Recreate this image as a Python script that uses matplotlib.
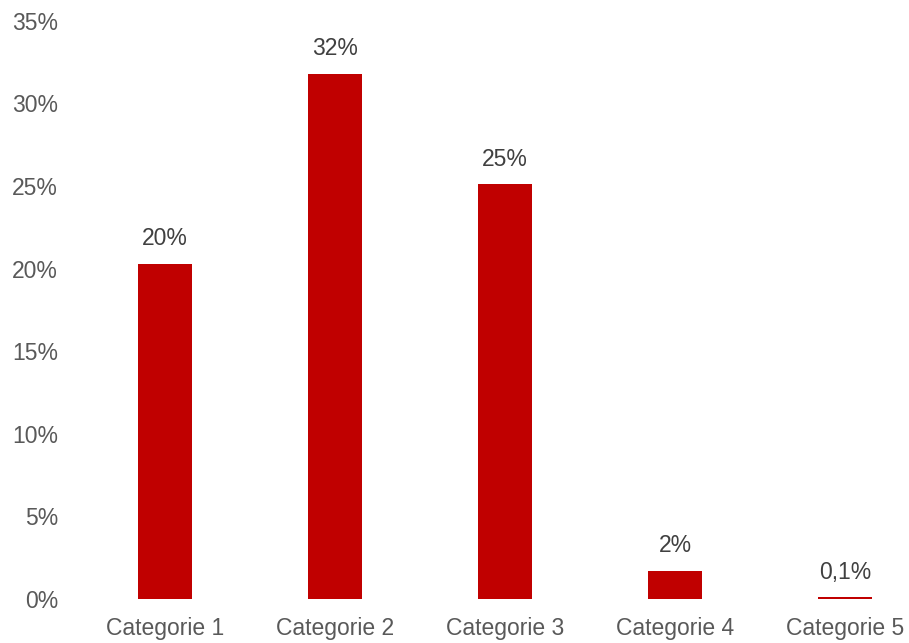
import matplotlib.pyplot as plt
from matplotlib.ticker import FuncFormatter

categories = ["Categorie 1", "Categorie 2", "Categorie 3", "Categorie 4", "Categorie 5"]
values = [20.3, 31.8, 25.1, 1.7, 0.1]
labels = ["20%", "32%", "25%", "2%", "0,1%"]

plt.rcParams["font.family"] = ["Liberation Sans", "DejaVu Sans"]

fig = plt.figure(figsize=(9.09, 6.43), dpi=100)
ax = fig.add_axes([80 / 909, 44 / 643, 850 / 909, 578.3 / 643])

x = range(len(categories))
bars = ax.bar(x, values, width=0.314, color="#C00000")

for b, lab in zip(bars, labels):
    ax.annotate(lab, (b.get_x() + b.get_width() / 2, b.get_height()),
                xytext=(0, 18), textcoords="offset points",
                ha="center", va="center", fontsize=16.5, color="#404040")

ax.set_xlim(-0.5, 4.5)
ax.set_ylim(0, 35)
ax.set_yticks(range(0, 36, 5))
ax.yaxis.set_major_formatter(FuncFormatter(lambda v, p: f"{v:.0f}%"))
ax.set_xticks(list(x))
ax.set_xticklabels(categories)

for s in ax.spines.values():
    s.set_visible(False)
ax.tick_params(axis="both", length=0, labelsize=16.5, labelcolor="#595959")
ax.tick_params(axis="y", pad=15.8)
ax.tick_params(axis="x", pad=13)

fig.savefig("out.png", dpi=100)
